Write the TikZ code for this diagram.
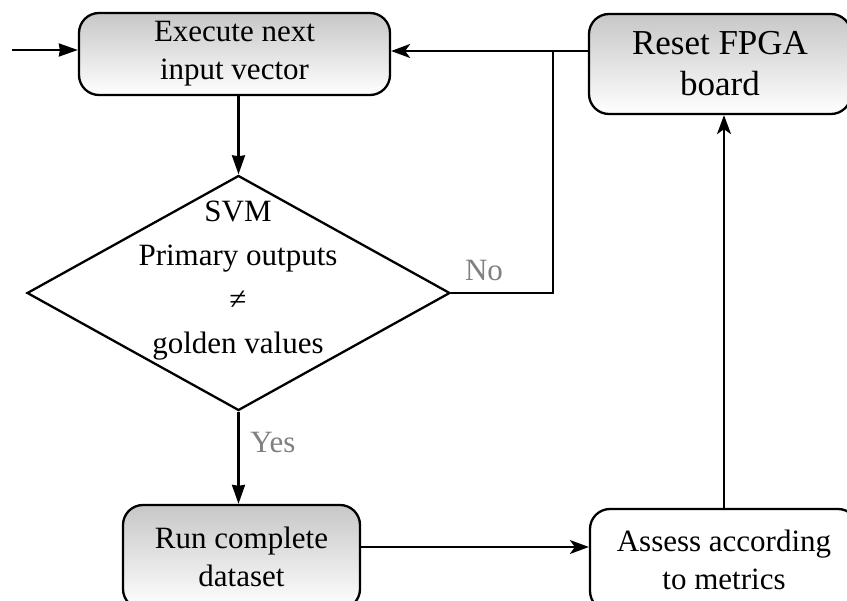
\documentclass[tikz,border=0pt]{standalone}
\usepackage{fontspec}
\setmainfont{Liberation Serif}
\usetikzlibrary{shapes.geometric,arrows.meta}
\begin{document}
\begin{tikzpicture}[x=1pt,y=-1pt,
  box/.style={draw, line width=2.3pt, rounded corners=20pt, top color=black!22, bottom color=white, align=center, inner sep=0pt, font=\fontsize{31}{38}\selectfont},
  plainbox/.style={draw, line width=2.3pt, rounded corners=20pt, fill=white, align=center, inner sep=0pt, font=\fontsize{31}{38}\selectfont},
  conn/.style={line width=2.3pt, -{Stealth[length=19pt,width=14pt,inset=5pt]}},
  tri/.style={line width=2.3pt, -{Stealth[length=19pt,width=13pt,inset=1pt]}},
  line/.style={line width=2.3pt},
  lbl/.style={text=black!50, font=\fontsize{31}{38}\selectfont, inner sep=0pt}]
\useasboundingbox (0,0) rectangle (847,601);
\clip (0,0) rectangle (847,601);
\node[box, minimum width=311pt, minimum height=82pt] (exec) at (234.5,54) {Execute next\\input vector};
\node[box, minimum width=262pt, minimum height=100pt, font=\fontsize{35}{41}\selectfont] (reset) at (720,64) {Reset FPGA\\board};
\node[draw, diamond, line width=2.3pt, minimum width=423pt, minimum height=235pt, inner sep=0pt] (dec) at (238.5,293) {};
\node[align=center, inner sep=0pt, font=\fontsize{31}{44}\selectfont] (dtext) at (238,281) {SVM\\Primary outputs\\≠\\golden values};
\node[box, minimum width=237pt, minimum height=104pt] (run) at (241.5,557) {Run complete\\dataset};
\node[plainbox, minimum width=268pt, minimum height=102pt] (assess) at (724,560) {Assess according\\to metrics};
\coordinate (start) at (12,50);
\coordinate (j) at (553,51);
\coordinate (h) at (0,547);
\draw[tri] (start) -- (start -| exec.west);
\draw[conn] (j -| reset.west) -- (j -| exec.east);
\draw[line] (dec.east) -- (dec.east -| j) -- (j);
\draw[tri] (dec.north |- exec.south) -- (dec.north);
\draw[tri] (dec.south) -- (dec.south |- run.north);
\draw[conn] (run.east |- h) -- (assess.west |- h);
\draw[conn] (assess.north) -- (assess.north |- reset.south);
\node[lbl] (nolbl) at (484,271) {No};
\node[lbl] (yeslbl) at (273,443) {Yes};
\end{tikzpicture}
\end{document}
